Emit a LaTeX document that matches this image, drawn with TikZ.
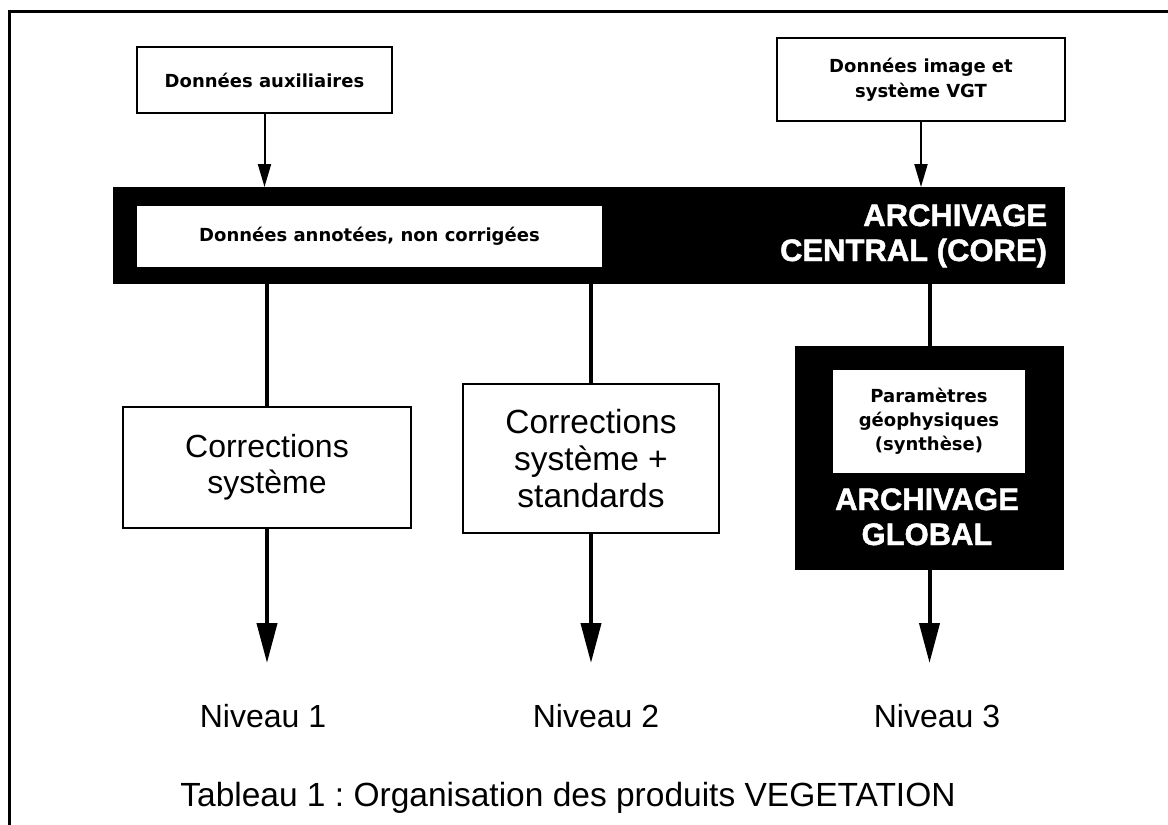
\documentclass[tikz,border=0pt]{standalone}
\usepackage{fontspec}
\setmainfont{Liberation Sans}
\newfontfamily\dv{DejaVu Sans}
\newfontfamily\archf{Liberation Sans Bold}[FakeBold=1.5]
\usetikzlibrary{arrows.meta}
\frenchspacing
\begin{document}
\begin{tikzpicture}[x=1pt,y=-1pt,
  every node/.style={inner sep=0pt, outer sep=0pt},
  smallbox/.style={draw, line width=2pt, fill=white, align=center,
    font={\dv\bfseries\fontsize{18}{25}\selectfont}},
  smalltext/.style={align=center, font={\dv\bfseries\fontsize{18}{24}\selectfont}},
  bigbox/.style={draw, line width=2pt, fill=white, align=center,
    font={\fontsize{32}{36}\selectfont}},
  archtext/.style={text=white, font={\archf\fontsize{31}{35}\selectfont}},
  blackbox/.style={fill=black},
  whitebox/.style={fill=white},
  levellabel/.style={anchor=base, font={\fontsize{32}{36}\selectfont}},
  thinarrow/.style={line width=2pt, -{Triangle[length=23pt,width=13pt]}},
  stem/.style={line width=4pt},
  bigarrow/.style={line width=4pt, -{Triangle[length=40pt,width=20pt]}}
]
\useasboundingbox (0,0) rectangle (1168,825);
% frame
\draw[line width=2.5pt] (1168,11.5) -- (9.5,11.5) -- (9.5,825);

% top boxes
\node[smallbox, minimum width=255, minimum height=66] (aux) at (264.5,80) {Données auxiliaires};
\node[smallbox, minimum width=288, minimum height=83] (img) at (921,79.5) {Données image et\\système VGT};

% central archive band
\node[blackbox, minimum width=952, minimum height=97] (band) at (589,235.5) {};
\node[whitebox, smalltext, minimum width=465, minimum height=61] (raw) at (369.5,236.5) {Données annotées, non corrigées};
\node[archtext, anchor=base east, align=right] (core) at (1047,261) {ARCHIVAGE\\CENTRAL (CORE)};

% level boxes
\node[bigbox, minimum width=288, minimum height=121] (c1) at (267,467.5) {Corrections\\système};
\node[bigbox, minimum width=256, minimum height=149, font={\fontsize{33.5}{37}\selectfont}] (c2) at (591,458.5) {Corrections\\système +\\standards};
\node[blackbox, minimum width=269, minimum height=224] (glob) at (929.5,458) {};
\node[whitebox, smalltext, minimum width=192, minimum height=103] (geo) at (929,421.5) {Paramètres\\géophysiques\\(synthèse)};
\node[archtext, anchor=base, align=center] (globt) at (927,545) {ARCHIVAGE\\GLOBAL};

% labels
\node[levellabel] (n1) at (263,727) {Niveau 1};
\node[levellabel] (n2) at (596,727) {Niveau 2};
\node[levellabel] (n3) at (937,727) {Niveau 3};
\node[anchor=base, font={\fontsize{33.5}{40}\selectfont}] (cap) at (568,806) {Tableau 1 : Organisation des produits VEGETATION};

% connectors
\coordinate (lvl) at (0,663);
\draw[thinarrow] (aux.south) -- (aux.south |- band.north);
\draw[thinarrow] (img.south) -- (img.south |- band.north);
\draw[stem] (c1.north |- band.south) -- (c1.north);
\draw[stem] (c2.north |- band.south) -- (c2.north);
\draw[stem] (glob.north |- band.south) -- (glob.north);
\draw[bigarrow] (c1.south) -- (c1.south |- lvl);
\draw[bigarrow] (c2.south) -- (c2.south |- lvl);
\draw[bigarrow] (glob.south) -- (glob.south |- lvl);
\end{tikzpicture}
\end{document}
